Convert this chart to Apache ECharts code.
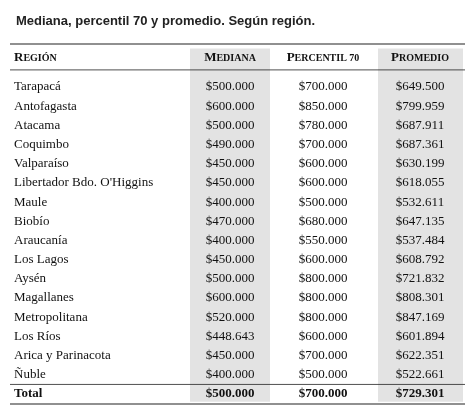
<!DOCTYPE html>
<html><head><meta charset="utf-8">
<script src="https://cdn.jsdelivr.net/npm/echarts@6/dist/echarts.min.js"></script>
<style>html,body{margin:0;background:#fff}#c{width:475px;height:413px}</style>
</head><body><div id="c"></div>
<script>
var regions = ['Tarapacá','Antofagasta','Atacama','Coquimbo','Valparaíso','Libertador Bdo. O\'Higgins','Maule','Biobío','Araucanía','Los Lagos','Aysén','Magallanes','Metropolitana','Los Ríos','Arica y Parinacota','Ñuble','Total'];
var mediana = [500000,600000,500000,490000,450000,450000,400000,470000,400000,450000,500000,600000,520000,448643,450000,400000,500000];
var percentil70 = [700000,850000,780000,700000,600000,600000,500000,680000,550000,600000,800000,800000,800000,600000,700000,500000,700000];
var promedio = [649500,799959,687911,687361,630199,618055,532611,647135,537484,608792,721832,808301,847169,601894,622351,522661,729301];
var headers = [['R','EGIÓN'],['M','EDIANA'],['P','ERCENTIL 70'],['P','ROMEDIO']];

var colX = [4, 220, 313, 410];   // column anchors (axis units)
var shaded = [[180, 260], [368, 453]];
function money(v){ return '$' + v.toString().replace(/\B(?=(\d{3})+(?!\d))/g, '.'); }

var cells = [];
headers.forEach(function(h, j){ cells.push([colX[j], -1.51, '{a|'+h[0]+'}{b|'+h[1]+'}', j === 0 ? 'left' : 'center', 1]); });
regions.forEach(function(r, i){
  var b = i === regions.length - 1 ? 1 : 0;
  cells.push([colX[0], i, r, 'left', b]);
  cells.push([colX[1], i, money(mediana[i]), 'center', b]);
  cells.push([colX[2], i, money(percentil70[i]), 'center', b]);
  cells.push([colX[3], i, money(promedio[i]), 'center', b]);
});
var rules = [[-2.24, 1.2], [-0.89, 0.8], [15.5, 0.8], [16.52, 1.2]];

var chart = echarts.init(document.getElementById('c'));
chart.setOption({
  animation: false,
  title: { text: 'Mediana, percentil 70 y promedio. Según región.', left: 11, top: 10,
    textStyle: { fontFamily: 'Liberation Sans', fontSize: 13, fontWeight: 'bold', color: '#222' } },
  grid: { left: 10, right: 10, top: 44, bottom: 9 },
  xAxis: { type: 'value', min: 0, max: 455, show: false },
  yAxis: { type: 'value', min: -2.24, max: 16.52, inverse: true, show: false },
  series: [{
    type: 'custom', data: shaded, silent: true, z: 1,
    renderItem: function(p, api){
      var a = api.coord([api.value(0), -2.0]), b = api.coord([api.value(1), 16.4]);
      return { type: 'rect', shape: { x: a[0], y: a[1], width: b[0]-a[0], height: b[1]-a[1] }, style: { fill: '#e3e3e3' } };
    }
  }, {
    type: 'custom', data: rules, silent: true, z: 2,
    renderItem: function(p, api){
      var a = api.coord([0, api.value(0)]), b = api.coord([455, api.value(0)]);
      return { type: 'line', shape: { x1: a[0], y1: a[1], x2: b[0], y2: b[1] }, style: { stroke: '#222', lineWidth: api.value(1) } };
    }
  }, {
    type: 'custom', data: cells, silent: true, z: 3,
    renderItem: function(p, api){
      var d = cells[p.dataIndex];
      var c = api.coord([d[0], d[1]]);
      return { type: 'text', x: c[0], y: c[1], style: {
        text: d[2], align: d[3], verticalAlign: 'middle', fill: '#111',
        font: (d[4] ? 'bold ' : '') + '13px "Liberation Serif"',
        rich: { a: { fontFamily: 'Liberation Serif', fontWeight: 'bold', fontSize: 13 },
                b: { fontFamily: 'Liberation Serif', fontWeight: 'bold', fontSize: 10 } }
      } };
    }
  }]
});
</script></body></html>
